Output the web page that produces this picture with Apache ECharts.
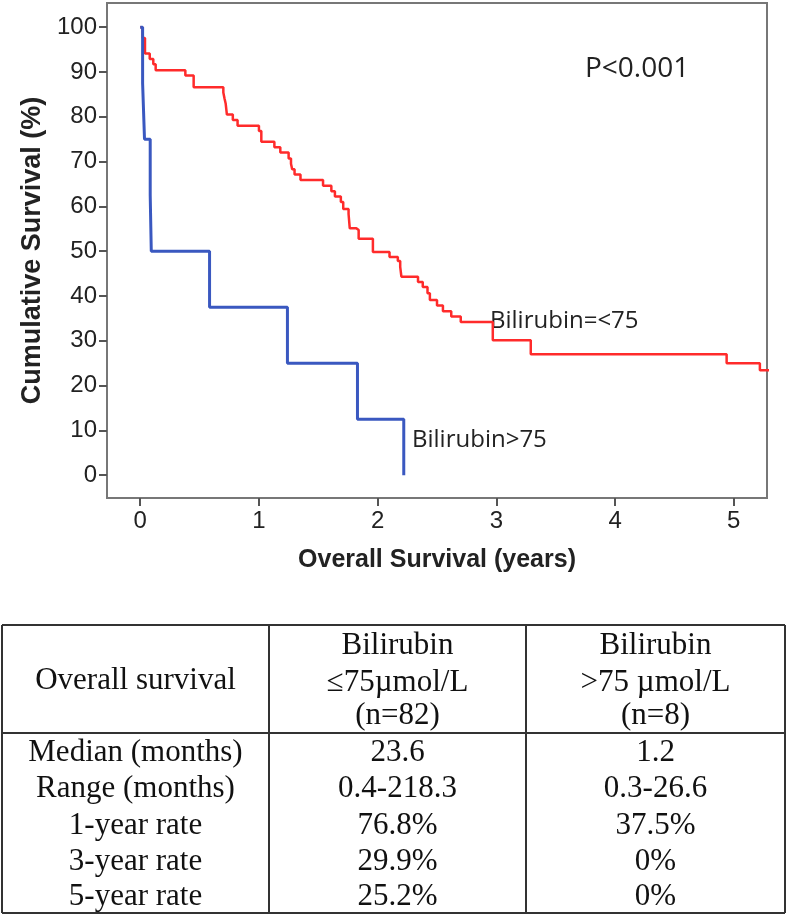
<!DOCTYPE html>
<html>
<head>
<meta charset="utf-8">
<title>Overall survival by bilirubin</title>
<script src="https://cdn.jsdelivr.net/npm/echarts@6/dist/echarts.min.js"></script>
<style>
  html, body { margin: 0; padding: 0; background: #fff; }
  #chart { width: 787px; height: 916px; }
</style>
</head>
<body>
<div id="chart"></div>
<script>
// Kaplan-Meier steps, time in years, survival in %
const lowTime = [0, 0.02, 0.04, 0.08, 0.11, 0.13, 0.38, 0.45, 0.70, 0.71, 0.72, 0.73, 0.78, 0.82, 1.00, 1.02,
  1.13, 1.18, 1.25, 1.27, 1.28, 1.30, 1.35, 1.54, 1.61, 1.64, 1.69, 1.71, 1.755, 1.765, 1.82, 1.84, 1.96,
  2.10, 2.17, 2.19, 2.20, 2.34, 2.38, 2.42, 2.44, 2.50, 2.55, 2.62, 2.70, 2.97, 3.29, 4.94, 5.22, 5.30];
const lowSurv = [100, 97.6, 94.1, 92.9, 91.7, 90.4, 89.2, 86.6, 85.4, 84.1, 82.9, 80.5, 79.3, 78.0, 76.8, 74.4,
  73.2, 72.0, 70.7, 69.5, 68.3, 67.1, 65.9, 64.6, 63.4, 62.2, 61.0, 59.4, 58.3, 55.1, 54.7, 52.8, 49.8,
  48.7, 47.8, 46.5, 44.3, 43.1, 42.0, 40.6, 39.1, 37.9, 36.6, 35.4, 34.2, 30.1, 27.0, 25.0, 23.4, 23.4];

const highTime = [0, 0.02, 0.036, 0.084, 0.093, 0.584, 1.24, 1.83, 2.22];
const highSurv = [100, 87.5, 75, 62.5, 50, 37.5, 25, 12.5, 0];

const xTicks = [0, 1, 2, 3, 4, 5];
const yTicks = [0, 10, 20, 30, 40, 50, 60, 70, 80, 90, 100];

// table under the plot
const tableHead = [
  ["Overall survival"],
  ["Bilirubin", "≤75µmol/L", "(n=82)"],
  ["Bilirubin", ">75 µmol/L", "(n=8)"]
];
const rowNames = ["Median (months)", "Range (months)", "1-year rate", "3-year rate", "5-year rate"];
const lowCol = ["23.6", "0.4-218.3", "76.8%", "29.9%", "25.2%"];
const highCol = ["1.2", "0.3-26.6", "37.5%", "0%", "0%"];

const chart = echarts.init(document.getElementById("chart"));

function pairs(xs, ys) {
  return xs.map(function (x, i) { return [x, ys[i]]; });
}

// table drawing
const tb = { left: 2, right: 785, top: 625, head: 733, bottom: 913, c1: 269, c2: 526 };
const colX = [(tb.left + tb.c1) / 2, (tb.c1 + tb.c2) / 2, (tb.c2 + tb.right) / 2];
const headY = [646, 683, 716];
const rowY = [753, 789, 826, 862, 897];
const serif = "'Liberation Serif', 'DejaVu Serif', serif";

function cellText(str, x, y) {
  return {
    type: "text",
    x: x,
    y: y,
    silent: true,
    style: {
      text: str,
      fill: "#111",
      fontSize: 31,
      fontFamily: serif,
      align: "center",
      verticalAlign: "middle"
    }
  };
}

function line(x1, y1, x2, y2) {
  return {
    type: "line",
    silent: true,
    shape: { x1: x1, y1: y1, x2: x2, y2: y2 },
    style: { stroke: "#333", lineWidth: 2 }
  };
}

const tableGraphics = [
  line(tb.left, tb.top, tb.right, tb.top),
  line(tb.left, tb.head, tb.right, tb.head),
  line(tb.left, tb.bottom, tb.right, tb.bottom),
  line(tb.left, tb.top, tb.left, tb.bottom),
  line(tb.c1, tb.top, tb.c1, tb.bottom),
  line(tb.c2, tb.top, tb.c2, tb.bottom),
  line(tb.right, tb.top, tb.right, tb.bottom),
  cellText(tableHead[0][0], colX[0], 681)
];
for (let c = 1; c < 3; c++) {
  tableHead[c].forEach(function (s, i) {
    tableGraphics.push(cellText(s, colX[c], headY[i]));
  });
}
rowNames.forEach(function (s, i) {
  tableGraphics.push(cellText(s, colX[0], rowY[i]));
  tableGraphics.push(cellText(lowCol[i], colX[1], rowY[i]));
  tableGraphics.push(cellText(highCol[i], colX[2], rowY[i]));
});

const sans = "'Liberation Sans', Arial, sans-serif";
const note = "'Open Sans', sans-serif";

chart.setOption({
  backgroundColor: "#fff",
  animation: false,
  grid: {
    left: 107,
    right: 20,
    top: 3,
    bottom: 418,
    show: true,
    borderColor: "#777",
    borderWidth: 2,
    backgroundColor: "transparent"
  },
  xAxis: {
    type: "value",
    min: -0.28,
    max: 5.28,
    name: "Overall Survival (years)",
    nameLocation: "middle",
    nameGap: 50,
    nameTextStyle: { fontFamily: sans, fontSize: 25, fontWeight: "bold", color: "#222" },
    axisLine: { show: true, onZero: false, lineStyle: { color: "#777", width: 2 } },
    axisTick: { show: true, length: 8, customValues: xTicks, lineStyle: { color: "#555", width: 2 } },
    axisLabel: { customValues: xTicks, margin: 11, fontFamily: sans, fontSize: 24, color: "#222" },
    splitLine: { show: false }
  },
  yAxis: {
    type: "value",
    min: -5.1,
    max: 105.4,
    name: "Cumulative Survival (%)",
    nameLocation: "middle",
    nameGap: 60,
    nameTextStyle: { fontFamily: sans, fontSize: 27, fontWeight: "bold", color: "#222" },
    axisLine: { show: true, onZero: false, lineStyle: { color: "#777", width: 2 } },
    axisTick: { show: true, length: 8, customValues: yTicks, lineStyle: { color: "#555", width: 2 } },
    axisLabel: { customValues: yTicks, margin: 10, fontFamily: sans, fontSize: 24, color: "#222" },
    splitLine: { show: false }
  },
  series: [
    {
      name: "Bilirubin=<75",
      type: "line",
      step: "end",
      symbol: "none",
      data: pairs(lowTime, lowSurv),
      lineStyle: { color: "#ff2b2b", width: 2.5 }
    },
    {
      name: "Bilirubin>75",
      type: "line",
      step: "end",
      symbol: "none",
      data: pairs(highTime, highSurv),
      lineStyle: { color: "#3a58c0", width: 3 }
    }
  ],
  graphic: [
    {
      type: "text", left: 585, top: 55, silent: true,
      style: { text: "P<0.001", fontSize: 28, fontFamily: note, fill: "#222" }
    },
    {
      type: "text", left: 490, top: 309, silent: true,
      style: { text: "Bilirubin=<75", fontSize: 24, fontFamily: note, fill: "#222" }
    },
    {
      type: "text", left: 412, top: 428, silent: true,
      style: { text: "Bilirubin>75", fontSize: 24, fontFamily: note, fill: "#222" }
    }
  ].concat(tableGraphics)
});
</script>
</body>
</html>
